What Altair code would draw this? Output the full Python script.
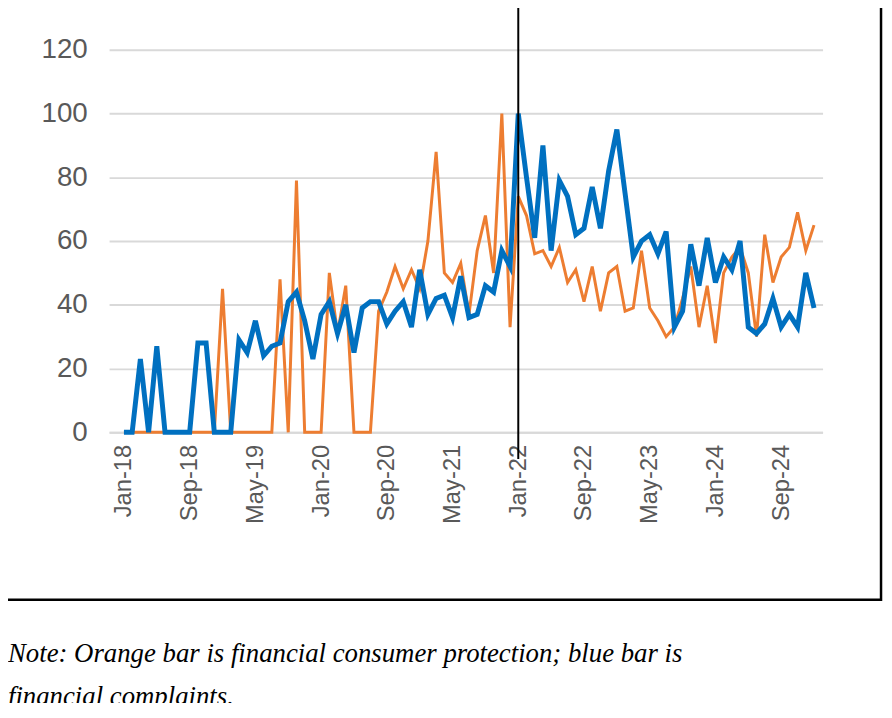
import altair as alt
import pandas as pd

blue = [0,0,23,0,27,0,0,0,0,28,28,0,0,0,29,25,35,24,27,28,41,44,35,23,37,41,31,40,25,39,
        41,41,34,38,41,33,51,37,42,43,36,49,36,37,46,44,57,52,100,80,61,90,57,79,74,62,64,77,64,82,
        95,75,55,60,62,56,63,33,38,59,46,61,47,55,51,60,33,31,34,42,33,37,33,50,39]
orange = [0,0,0,0,0,0,0,0,0,0,0,0,45,0,0,0,0,0,0,48,0,79,0,0,0,50,31,46,0,0,
          0,38,44,52,45,51,45,60,88,50,47,53,37,57,68,50,100,33,74,68,56,57,52,58,47,51,41,52,38,50,
          52,38,39,57,39,35,30,33,42,52,33,46,28,50,55,58,50,30,62,47,55,58,69,57,65]
tick_labels = ["Jan-18","Sep-18","May-19","Jan-20","Sep-20","May-21","Jan-22","Sep-22","May-23","Jan-24","Sep-24"]
marker_index = 48

rows = []
for i, v in enumerate(orange):
    rows.append({"i": i, "v": v, "s": "Financial consumer protection"})
for i, v in enumerate(blue):
    rows.append({"i": i, "v": v, "s": "Financial complaints"})
df = pd.DataFrame(rows)

lab_arr = "[" + ",".join("'%s'" % t for t in tick_labels) + "]"
xs = alt.Scale(domain=[-1.81, 85.04], nice=False, zero=False)

lines = alt.Chart(df).mark_line(clip=False).encode(
    x=alt.X("i:Q", scale=xs, title=None,
            axis=alt.Axis(values=list(range(0, 81, 8)), labelExpr=lab_arr + "[datum.value/8]",
                          labelAngle=270, labelAlign="right", labelBaseline="middle",
                          labelFontSize=24, labelColor="#595959", labelFont="Liberation Sans",
                          grid=False, ticks=False, domainColor="#d9d9d9", domainWidth=2, labelPadding=12)),
    y=alt.Y("v:Q", scale=alt.Scale(domain=[0, 120], nice=False), title=None,
            axis=alt.Axis(values=list(range(0, 121, 20)), labelFontSize=28, labelColor="#595959",
                          labelFont="Liberation Sans", gridColor="#d9d9d9", gridWidth=2,
                          domain=False, ticks=False, labelPadding=22)),
    color=alt.Color("s:N", scale=alt.Scale(domain=["Financial consumer protection", "Financial complaints"],
                                           range=["#ED7D31", "#0070C0"]), legend=None),
    strokeWidth=alt.StrokeWidth("s:N", scale=alt.Scale(domain=["Financial consumer protection", "Financial complaints"],
                                                       range=[3, 5]), legend=None),
    order=alt.Order("i:Q"),
)

rule = alt.Chart(pd.DataFrame({"i": [marker_index]})).mark_rule(color="black", strokeWidth=2).encode(
    x=alt.X("i:Q", scale=xs), y=alt.value(-45), y2=alt.value(413))

frame = alt.Chart(pd.DataFrame({"a": [0]})).mark_rect(fill=None, stroke="black", strokeWidth=2.5).encode(
    x=alt.value(-107), x2=alt.value(779), y=alt.value(-44), y2=alt.value(555))

note = alt.Chart(pd.DataFrame({"t": ["Note: Orange bar is financial consumer protection; blue bar is",
                                     "financial complaints."], "k": [0, 1]})).mark_text(
    align="left", baseline="middle", font="Liberation Serif", fontStyle="italic", fontSize=27, color="black"
).encode(x=alt.value(-102), y=alt.Y("k:Q", scale=alt.Scale(domain=[0, 1], range=[610, 653]), axis=None), text="t:N")

chart = alt.layer(lines, rule, frame, note).resolve_scale(y="independent").properties(
    width=720, height=386, autosize=alt.AutoSizeParams(type="none"),
    padding={"left": 102, "top": 39, "right": 62, "bottom": 270}
).configure_view(stroke=None)

chart.save("out.html", embed_options={"renderer": "svg", "actions": False})
